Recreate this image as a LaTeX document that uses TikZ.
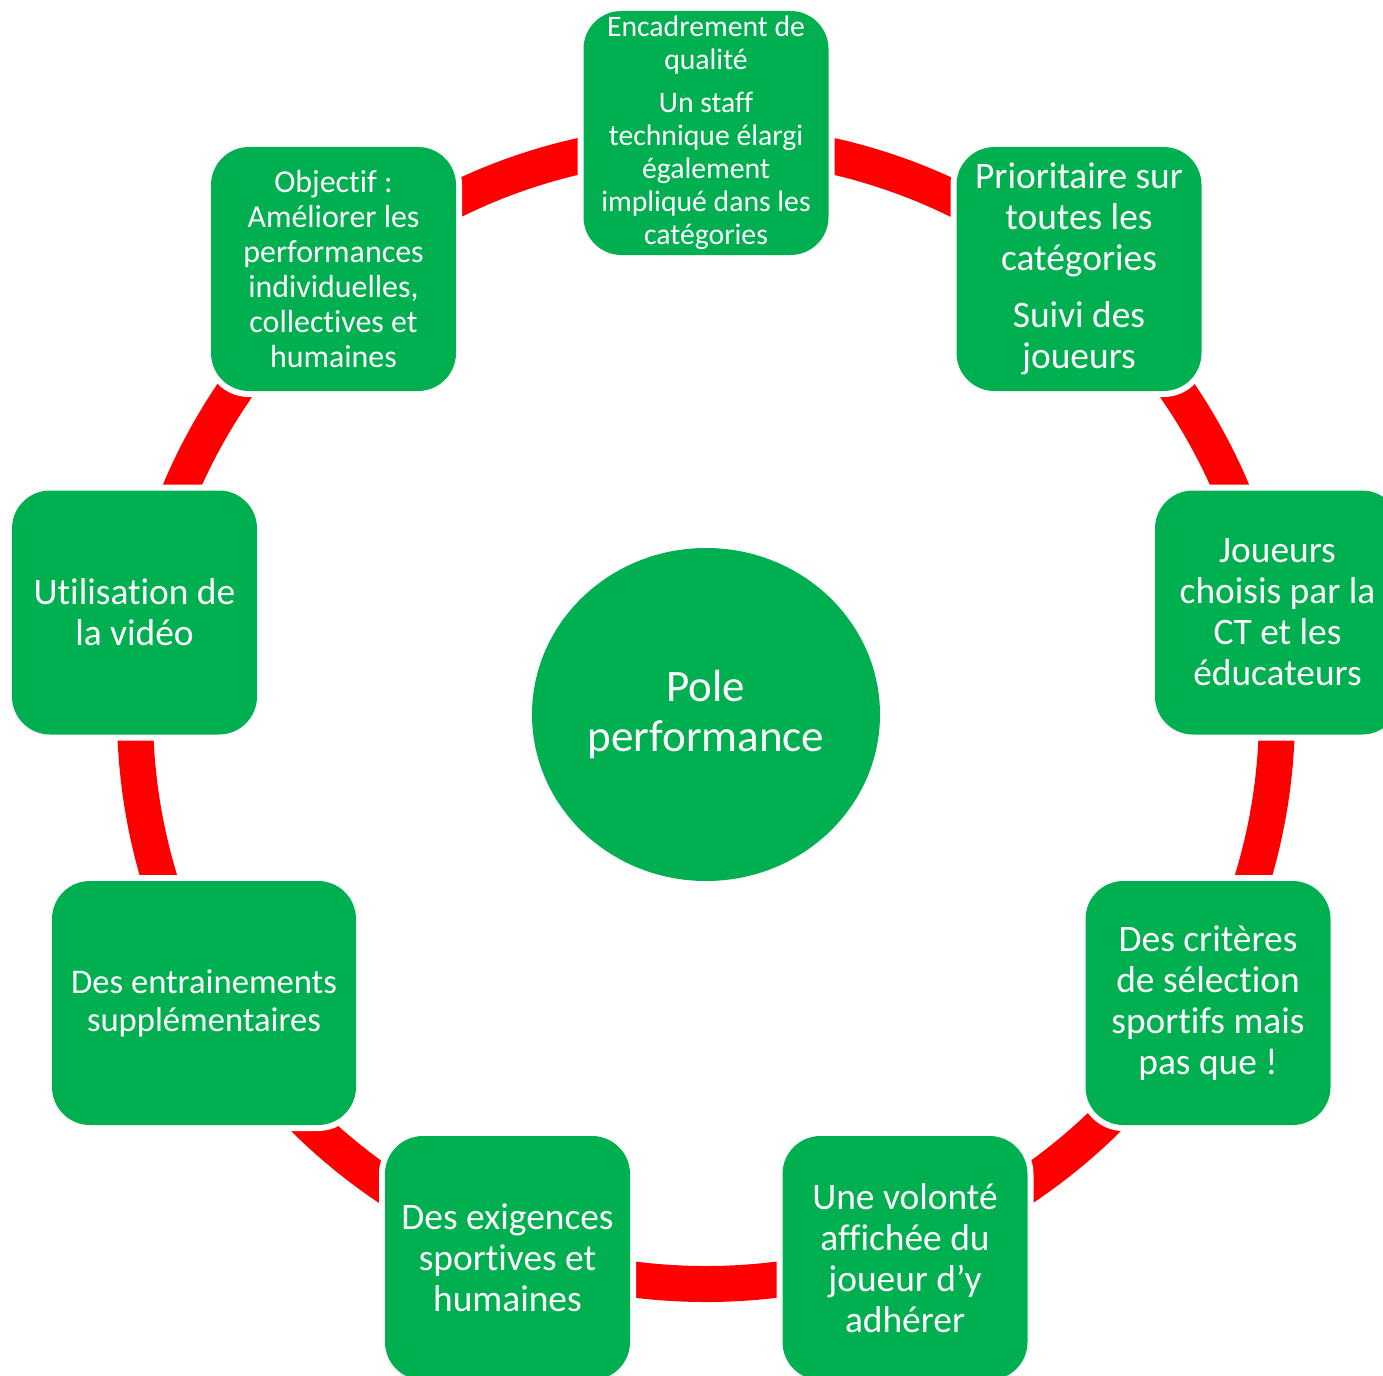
\documentclass[tikz,border=0pt]{standalone}
\usepackage{fontspec}
\setmainfont{Carlito}[Ligatures={NoCommon,NoContextual,NoRequired}]
\usetikzlibrary{shapes.geometric}
\definecolor{pgreen}{HTML}{00B050}
\definecolor{pred}{HTML}{FF0000}
\tikzset{
  box/.style={rounded corners=38pt, fill=pgreen, text=white, inner sep=0pt, align=center,
    minimum width=245pt, minimum height=244pt, preaction={draw=white, line width=12pt}},
  ringline/.style={draw=pred, line width=36pt},
  fa/.style={font=\fontsize{37.4}{41}\selectfont},
  fs/.style={font=\fontsize{29.7}{33}\selectfont},
  fm/.style={font=\fontsize{31.9}{35}\selectfont},
  fe/.style={font=\fontsize{34.6}{38}\selectfont},
  fc/.style={font=\fontsize{45}{50}\selectfont},
}
\begin{document}
\begin{tikzpicture}[x=1pt,y=-1pt]
\useasboundingbox (0,0) rectangle (1383,1375);
\clip (0,0) rectangle (1383,1375);
\coordinate (o) at (706,713);
\draw[ringline] (o) circle (571pt);
\node[ellipse, fill=pgreen, text=white, inner sep=0pt, minimum width=348pt, minimum height=333pt, align=center, fc] (pole) at (706,714.5) {Pole\\performance};
\node[box, fs] (b1) at (706,133) {Encadrement de\\qualité\\[10pt]Un staff\\technique élargi\\également\\impliqué dans les\\catégories};
\node[box, fa] (b2) at (1079,269) {Prioritaire sur\\toutes les\\catégories\\[16pt]Suivi des\\joueurs};
\node[box, fa] (b3) at (1277.5,612.5) {Joueurs\\choisis par la\\CT et les\\éducateurs};
\node[box, fa] (b4) at (1208,1003) {Des critères\\de sélection\\sportifs mais\\pas que !};
\node[box, fa] (b5) at (905,1258) {Une volonté\\affichée du\\joueur d’y\\adhérer};
\node[box, fa] (b6) at (507.5,1258) {Des exigences\\sportives et\\humaines};
\node[box, fe, minimum width=304pt] (b7) at (204,1003) {Des entrainements\\supplémentaires};
\node[box, fa] (b8) at (134.5,612.5) {Utilisation de\\la vidéo};
\node[box, fm] (b9) at (333.5,269) {Objectif :\\Améliorer les\\performances\\individuelles,\\collectives et\\humaines};
\end{tikzpicture}
\end{document}
